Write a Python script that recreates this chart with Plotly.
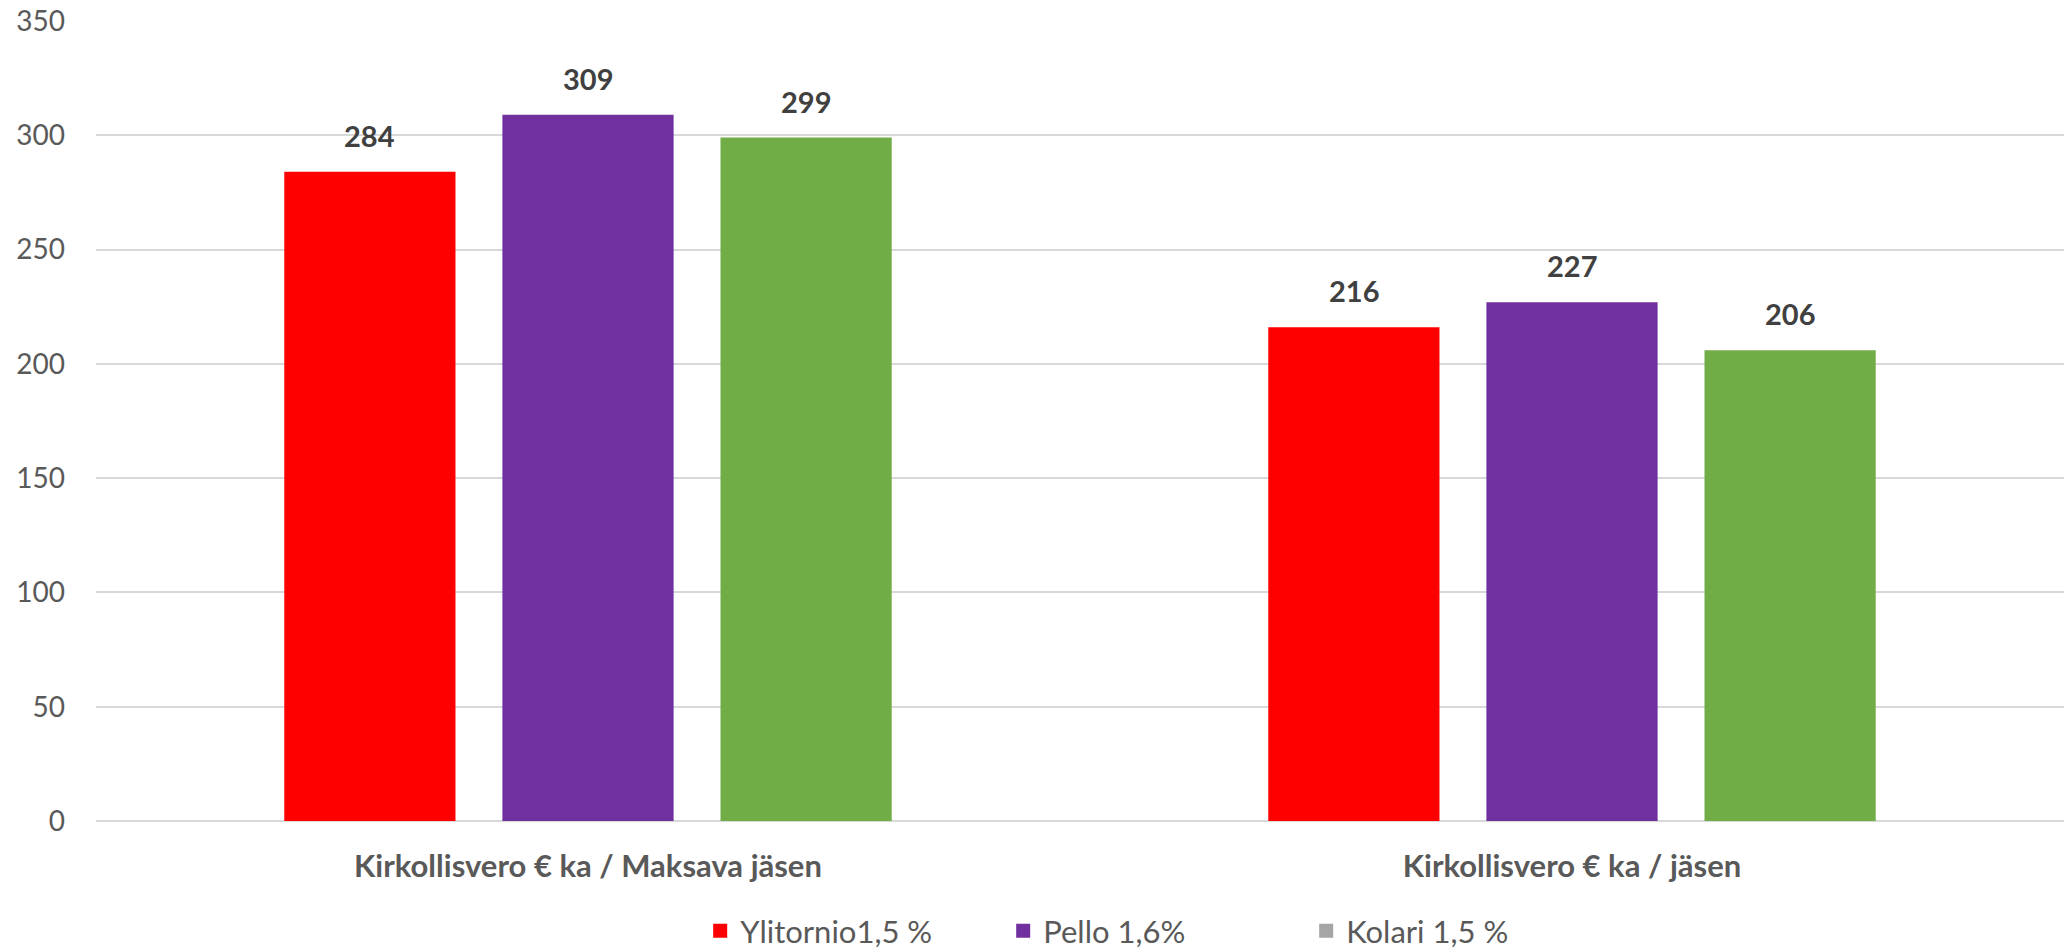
import plotly.graph_objects as go

categories = ["Kirkollisvero € ka / Maksava jäsen", "Kirkollisvero € ka / jäsen"]
series_names = ["Ylitornio1,5 %", "Pello 1,6%", "Kolari 1,5 %"]
ylitornio = [284, 216]
pello = [309, 227]
kolari = [299, 206]
series_values = [ylitornio, pello, kolari]
bar_colors = ["#FF0000", "#7030A0", "#70AD47"]
legend_colors = ["#FF0000", "#7030A0", "#A5A5A5"]
y_ticks = [0, 50, 100, 150, 200, 250, 300, 350]

FONT = "Lato, 'Open Sans', sans-serif"
BARGAP = 0.335
GROUPGAP = 0.215

fig = go.Figure()
for name, vals, col in zip(series_names, series_values, bar_colors):
    fig.add_trace(go.Bar(x=categories, y=vals, name=name, marker=dict(color=col, line=dict(width=0)),
                         showlegend=False, hoverinfo="x+y+name"))

# legend entries (Kolari shows grey in the legend as in the original)
for name, col in zip(series_names, legend_colors):
    fig.add_trace(go.Scatter(x=[None], y=[None], mode="markers", name=name,
                             marker=dict(symbol="square", size=14, color=col), showlegend=True))

# data labels above bars
slot = (1 - BARGAP) / len(series_values)
for i, vals in enumerate(series_values):
    for ci, v in enumerate(vals):
        fig.add_annotation(x=ci + (i - (len(series_values) - 1) / 2) * slot, y=v, xref="x", yref="y",
                           text=f"<b>{v}</b>", showarrow=False, yanchor="bottom", yshift=17,
                           font=dict(family=FONT, size=29, color="#404040"))

fig.update_layout(
    width=2071, height=952,
    margin=dict(l=96, r=7, t=21, b=131, autoexpand=False),
    paper_bgcolor="white", plot_bgcolor="white",
    barmode="group", bargap=BARGAP, bargroupgap=GROUPGAP,
    font=dict(family=FONT, size=27, color="#595959"),
    legend=dict(orientation="h", x=0.307, xanchor="left", y=-0.1375, yanchor="middle",
                font=dict(family=FONT, size=31, color="#595959"), entrywidth=258, itemwidth=30,
                traceorder="normal"),
    xaxis=dict(type="category", range=[-0.5, 1.5], showgrid=False, showline=False, zeroline=False,
               tickfont=dict(family=FONT, size=31, color="#595959", weight="bold"), ticks="",
               ticklabelstandoff=24),
    yaxis=dict(range=[0, 350], tickvals=y_ticks, showgrid=True, gridcolor="#D9D9D9", gridwidth=2,
               zeroline=True, zerolinecolor="#D9D9D9", zerolinewidth=2, showline=False, ticks="",
               tickfont=dict(family=FONT, size=28, color="#595959"), ticklabelstandoff=30),
)

fig.write_html("out.html", config={"displayModeBar": False},
               post_script="document.body.style.margin='0';")
